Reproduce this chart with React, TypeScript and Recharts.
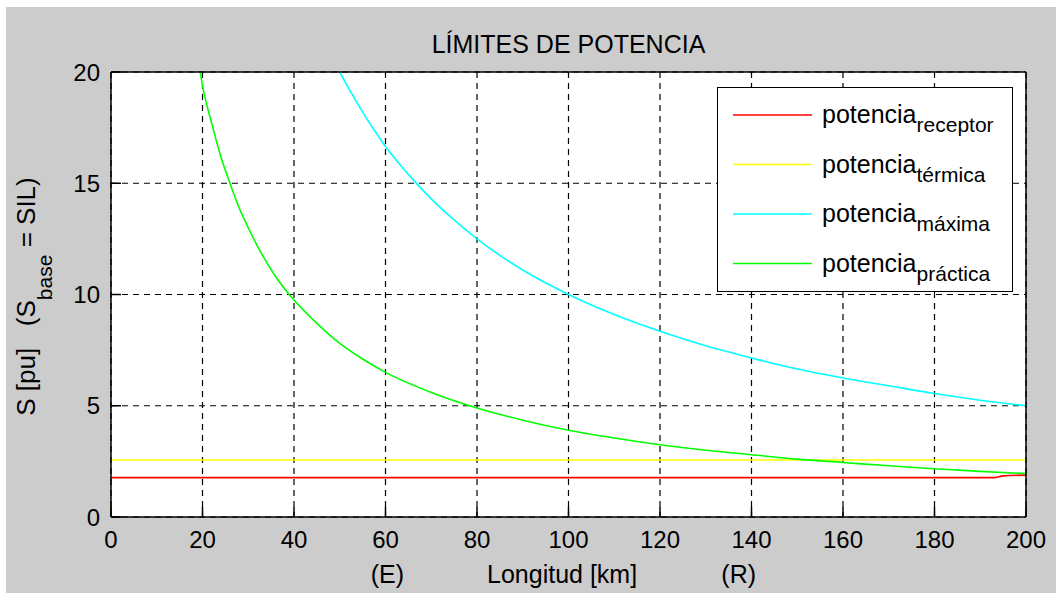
import { LineChart, Line, XAxis, YAxis, CartesianGrid, Legend, Label } from 'recharts';

const FONT = '"Liberation Sans", Arial, Helvetica, sans-serif';

// axis ticks
const KM_TICKS = [0, 20, 40, 60, 80, 100, 120, 140, 160, 180, 200];
const S_TICKS = [0, 5, 10, 15, 20];

// potencia receptor (red)
const receptorKm = [0, 193, 195, 200];
const receptorS = [1.77, 1.77, 1.85, 1.88];

// potencia térmica (yellow)
const termicaKm = [0, 200];
const termicaS = [2.56, 2.56];

// potencia máxima (cyan)
const maximaKm = [50, 52, 55, 58, 60, 65, 70, 75, 80, 90, 100, 110, 120, 130, 140, 150, 160, 170, 180, 190, 200];
const maximaS = [20.0, 19.25, 18.2, 17.25, 16.65, 15.4, 14.3, 13.35, 12.5, 11.1, 10.0, 9.1, 8.35, 7.7, 7.15, 6.65, 6.25, 5.9, 5.55, 5.25, 5.0];

// potencia práctica (green)
const practicaKm = [19.5, 20, 22, 24, 26, 28, 30, 33, 36, 40, 45, 50, 55, 60, 70, 80, 90, 100, 110, 120, 130, 140, 150, 160, 170, 180, 190, 200];
const practicaS = [20.0, 19.4, 17.7, 16.2, 15.0, 13.9, 13.0, 11.8, 10.8, 9.75, 8.7, 7.8, 7.1, 6.5, 5.6, 4.9, 4.35, 3.9, 3.55, 3.25, 3.0, 2.8, 2.6, 2.45, 2.3, 2.17, 2.05, 1.95];

const toPoints = (km: number[], s: number[]) => km.map((k, i) => ({ km: k, s: s[i] }));

const SERIES = [
  { name: 'receptor', color: '#ff0000', data: toPoints(receptorKm, receptorS) },
  { name: 'térmica', color: '#ffff00', data: toPoints(termicaKm, termicaS) },
  { name: 'máxima', color: '#00ffff', data: toPoints(maximaKm, maximaS) },
  { name: 'práctica', color: '#00ff00', data: toPoints(practicaKm, practicaS) },
];

const INNER_TICK = 10;

function BottomTick({ x, y, payload }: any) {
  return (
    <g>
      <line x1={x} y1={y} x2={x} y2={y - INNER_TICK} stroke="#000" strokeWidth={1.5} />
      <text x={x} y={y + 31} textAnchor="middle" fontSize={24} fontFamily={FONT} fill="#000">
        {payload.value}
      </text>
    </g>
  );
}

function TopTick({ x, y }: any) {
  return <line x1={x} y1={y} x2={x} y2={y + INNER_TICK} stroke="#000" strokeWidth={1.5} />;
}

function LeftTick({ x, y, payload }: any) {
  return (
    <g>
      <line x1={x} y1={y} x2={x + INNER_TICK} y2={y} stroke="#000" strokeWidth={1.5} />
      <text x={x - 11} y={y + 8.5} textAnchor="end" fontSize={24} fontFamily={FONT} fill="#000">
        {payload.value}
      </text>
    </g>
  );
}

function RightTick({ x, y }: any) {
  return <line x1={x} y1={y} x2={x - INNER_TICK} y2={y} stroke="#000" strokeWidth={1.5} />;
}

function TitleLabel({ viewBox }: any) {
  return (
    <text x={viewBox.x + viewBox.width / 2} y={53} textAnchor="middle" fontSize={25} fontFamily={FONT} fill="#000">
      LÍMITES DE POTENCIA
    </text>
  );
}

function XLabel({ viewBox }: any) {
  const { x, y, width } = viewBox;
  return (
    <text y={y + 66} textAnchor="middle" fontSize={25} fontFamily={FONT} fill="#000">
      <tspan x={x + width * 0.302}>(E)</tspan>
      <tspan x={x + width * 0.493}>Longitud [km]</tspan>
      <tspan x={x + width * 0.686}>(R)</tspan>
    </text>
  );
}

function YLabel({ viewBox }: any) {
  const cx = 35;
  const cy = viewBox.y + viewBox.height / 2 + 2;
  return (
    <text
      x={cx}
      y={cy}
      transform={`rotate(-90, ${cx}, ${cy})`}
      textAnchor="middle"
      fontSize={26}
      fontFamily={FONT}
      fill="#000"
      style={{ whiteSpace: 'pre' }}
    >
      {'S [pu]   (S'}
      <tspan dy={17} fontSize={21}>base</tspan>
      <tspan dy={-17}>{' = SIL)'}</tspan>
    </text>
  );
}

// keep the legend in series order (recharts sorts payload by value)
function LegendBox({ payload }: any) {
  const items = SERIES.map((s) => {
    const hit = (payload ?? []).find((p: any) => p.value === s.name);
    return { value: s.name, color: hit ? hit.color : s.color };
  });
  return (
    <div
      style={{
        width: 296,
        height: 205,
        background: '#fff',
        border: '1.5px solid #000',
        boxSizing: 'border-box',
      }}
    >
      <svg width={293} height={202} style={{ display: 'block' }}>
        {items.map((entry, i) => {
          const ly = 27 + i * 49.5;
          return (
            <g key={entry.value}>
              <line x1={15} y1={ly} x2={94} y2={ly} stroke={entry.color} strokeWidth={1.5} />
              <text x={104} y={ly + 8} fontSize={25} fontFamily={FONT} fill="#000">
                potencia
                <tspan dy={9} fontSize={21}>{entry.value}</tspan>
              </text>
            </g>
          );
        })}
      </svg>
    </div>
  );
}

export default function App() {
  return (
    <div style={{ position: 'absolute', left: 0, top: 0, width: 1056, height: 603, background: '#fff' }}>
      <div style={{ position: 'absolute', left: 6, top: 7, width: 1050, height: 586, background: '#cccccc' }} />
      <div style={{ position: 'absolute', left: 0, top: 0 }}>
        <LineChart width={1056} height={603} margin={{ top: 71, right: 29, bottom: 0, left: 0 }}>
          <CartesianGrid
            xAxisId="bottom"
            yAxisId="left"
            stroke="#000"
            strokeWidth={1.2}
            strokeDasharray="6 5"
            fill="#fff"
            fillOpacity={1}
          />
          <XAxis
            xAxisId="bottom"
            dataKey="km"
            type="number"
            domain={[0, 200]}
            ticks={KM_TICKS}
            interval={0}
            height={86}
            tickSize={0}
            tickMargin={0}
            tickLine={false}
            axisLine={{ stroke: '#000', strokeWidth: 1.5 }}
            tick={<BottomTick />}
          >
            <Label content={<XLabel />} />
          </XAxis>
          <XAxis
            xAxisId="top"
            orientation="top"
            dataKey="km"
            type="number"
            domain={[0, 200]}
            ticks={KM_TICKS}
            interval={0}
            height={1}
            tickSize={0}
            tickMargin={0}
            tickLine={false}
            axisLine={{ stroke: '#000', strokeWidth: 1.5 }}
            tick={<TopTick />}
          >
            <Label content={<TitleLabel />} />
          </XAxis>
          <YAxis
            yAxisId="left"
            type="number"
            domain={[0, 20]}
            ticks={S_TICKS}
            interval={0}
            width={111}
            allowDataOverflow
            tickSize={0}
            tickMargin={0}
            tickLine={false}
            axisLine={{ stroke: '#000', strokeWidth: 1.5 }}
            tick={<LeftTick />}
          >
            <Label content={<YLabel />} />
          </YAxis>
          <YAxis
            yAxisId="right"
            orientation="right"
            type="number"
            domain={[0, 20]}
            ticks={S_TICKS}
            interval={0}
            width={1}
            tickSize={0}
            tickMargin={0}
            tickLine={false}
            axisLine={{ stroke: '#000', strokeWidth: 1.5 }}
            tick={<RightTick />}
          />
          {SERIES.map((s) => (
            <Line
              key={s.name}
              xAxisId="bottom"
              yAxisId="left"
              data={s.data}
              dataKey="s"
              name={s.name}
              type="monotone"
              stroke={s.color}
              strokeWidth={1.6}
              dot={false}
              activeDot={false}
              isAnimationActive={false}
            />
          ))}
          <Legend
            layout="horizontal"
            verticalAlign="middle"
            align="center"
            content={<LegendBox />}
            wrapperStyle={{ position: 'absolute', left: 717, top: 87, width: 296, height: 205 }}
          />
        </LineChart>
      </div>
    </div>
  );
}
